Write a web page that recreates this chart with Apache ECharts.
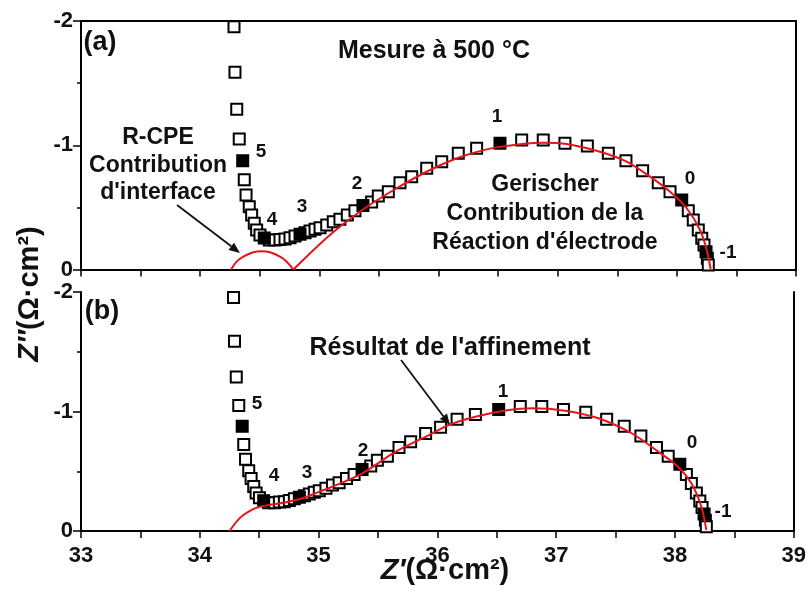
<!DOCTYPE html>
<html><head><meta charset="utf-8">
<script src="https://cdn.jsdelivr.net/npm/echarts@6.0.0/dist/echarts.min.js"></script>
<style>html,body{margin:0;padding:0;background:#fff}#c{width:809px;height:599px}</style>
</head><body><div id="c"></div>
<script>
// Measured impedance (open squares)
const measX = [34.284,34.292,34.307,34.328,34.370,34.385,34.412,34.432,34.454,34.474,34.502,34.580,34.628,34.670,34.712,34.754,34.796,34.880,34.922,34.964,35.006,35.062,35.117,35.173,35.235,35.299,35.439,35.495,35.579,35.677,35.775,35.901,36.027,36.166,36.320,36.698,36.879,37.061,37.249,37.425,37.573,37.713,37.844,37.943,38.096,38.138,38.180,38.209,38.228,38.256,38.264];
const measY = [-1.954,-1.587,-1.289,-1.050,-0.723,-0.600,-0.505,-0.439,-0.372,-0.318,-0.278,-0.237,-0.237,-0.242,-0.245,-0.256,-0.270,-0.296,-0.310,-0.324,-0.336,-0.358,-0.385,-0.404,-0.439,-0.473,-0.543,-0.592,-0.626,-0.699,-0.747,-0.815,-0.868,-0.935,-0.975,-1.042,-1.042,-1.016,-0.994,-0.935,-0.876,-0.795,-0.699,-0.626,-0.473,-0.398,-0.318,-0.251,-0.197,-0.090,-0.036];
// Decade frequency points (filled squares), log10(f/Hz)
const decX = [34.357,34.538,34.838,35.366,36.516,38.041,38.245];
const decY = [-0.876,-0.254,-0.283,-0.515,-1.017,-0.559,-0.143];
const decLabels = ['5','4','3','2','1','0','-1'];
// (a) R-CPE contribution
const rcpeX = [34.259,34.306,34.362,34.446,34.516,34.586,34.670,34.726,34.782];
const rcpeY = [0,-0.063,-0.103,-0.139,-0.147,-0.139,-0.103,-0.063,0];
// (a) Gerischer contribution
const gerX = [34.782,35.089,35.369,35.649,35.929,36.208,36.488,36.879,37.076,37.355,37.579,37.775,37.943,38.083,38.195,38.251,38.284];
const gerY = [0,-0.278,-0.485,-0.654,-0.801,-0.913,-0.983,-1.021,-1.010,-0.948,-0.868,-0.747,-0.626,-0.493,-0.318,-0.157,0];
// (b) fit result
const fitX = [34.250,34.334,34.418,34.502,34.586,34.726,34.865,35.006,35.089,35.369,35.649,35.929,36.096,36.320,36.600,36.795,37.076,37.355,37.635,37.859,38.026,38.138,38.222,38.264];
const fitY = [0,-0.106,-0.167,-0.203,-0.218,-0.241,-0.274,-0.329,-0.360,-0.483,-0.664,-0.803,-0.887,-0.956,-1.013,-1.027,-1.007,-0.943,-0.818,-0.664,-0.538,-0.399,-0.203,-0.008];
const xTickLabels = ['33','34','35','36','37','38','39'];
const yTickLabels = ['-2','-1','0'];

const zip = (a,b) => a.map((v,i)=>[v,b[i]]);
const FF = '"Liberation Sans", Arial, sans-serif';
const TXT = '#111';
const RED = '#e8141b';

function xAx(grid, opts) {
  return Object.assign({
    type:'value', gridIndex:grid, min:33, max:39, interval:0.5,
    axisLine:{show:true, onZero:false, lineStyle:{color:'#000', width:2}},
    axisTick:{show:true, inside:false, length:7, lineStyle:{color:'#000', width:1.5}},
    axisLabel:{show:false},
    splitLine:{show:false}
  }, opts);
}
function yAx(grid, opts) {
  return Object.assign({
    type:'value', gridIndex:grid, min:-2, max:0, interval:1, inverse:true,
    axisLine:{show:true, onZero:false, lineStyle:{color:'#000', width:2}},
    axisTick:{show:true, inside:false, length:8, lineStyle:{color:'#000', width:1.5}},
    minorTick:{show:true, splitNumber:2, length:4, lineStyle:{color:'#000', width:1.5}},
    axisLabel:{show:true, margin:8, color:TXT, fontFamily:FF, fontWeight:'bold', fontSize:22,
      formatter:(v)=>{const i=[-2,-1,0].indexOf(Math.round(v)); return i>=0?yTickLabels[i]:'';}},
    splitLine:{show:false}
  }, opts);
}
const frame = {axisTick:{show:false}, minorTick:{show:false}, axisLabel:{show:false}};

const openStyle = {color:'#fff', borderColor:'#000', borderWidth:2, opacity:1};
const fillStyle = {color:'#000', borderColor:'#000', borderWidth:2, opacity:1};

function txt(x,y,text,size){
  return {type:'text', z:100, style:{text:text, x:x, y:y, fill:TXT,
    font:'bold '+size+'px '+FF, align:'center', verticalAlign:'middle'}};
}
function arrow(x1,y1,x2,y2){
  const a = Math.atan2(y2-y1, x2-x1), L=11, W=4.5;
  const bx = x2 - L*Math.cos(a), by = y2 - L*Math.sin(a);
  return [
    {type:'line', z:100, shape:{x1:x1,y1:y1,x2:bx,y2:by}, style:{stroke:'#111', lineWidth:1.8}},
    {type:'polygon', z:100, shape:{points:[[x2,y2],[bx - W*Math.sin(a), by + W*Math.cos(a)],[bx + W*Math.sin(a), by - W*Math.cos(a)]]}, style:{fill:'#111'}}
  ];
}

const topLab = [[261,152],[272,220],[302,207],[357,184],[497,117],[690,179],[728,253]];
const botLab = [[257,404],[274,476],[307,473],[363,451],[503,392],[692,443],[723,512]];

const graphics = [];
decLabels.forEach((t,i)=>{
  graphics.push(txt(topLab[i][0], topLab[i][1], t, 19));
  graphics.push(txt(botLab[i][0], botLab[i][1], t, 19));
});
graphics.push(txt(100,43,'(a)',27));
graphics.push(txt(102,312,'(b)',27));
graphics.push(txt(434,51,'Mesure à 500 °C',25));
['R-CPE','Contribution',"d'interface"].forEach((t,i)=>graphics.push(txt(158,138+i*27.5,t,23)));
['Gerischer','Contribution de la',"Réaction d'électrode"].forEach((t,i)=>graphics.push(txt(545,185+i*29,t,23)));
graphics.push(txt(450,348,"Résultat de l'affinement",25));
graphics.push(...arrow(177,205,240,253));
graphics.push(...arrow(401,360,450,425));
// axis titles
graphics.push({type:'text', z:100, x:445, y:571, style:{text:'{i|Z′}{n|(Ω·cm²)}', align:'center', verticalAlign:'middle',
  rich:{i:{font:'italic bold 29px '+FF, fill:TXT}, n:{font:'bold 29px '+FF, fill:TXT}}}});
graphics.push({type:'text', z:100, x:30, y:294, rotation:Math.PI/2, style:{text:'{i|Z″}{n|(Ω·cm²)}', align:'center', verticalAlign:'middle',
  rich:{i:{font:'italic bold 29px '+FF, fill:TXT}, n:{font:'bold 29px '+FF, fill:TXT}}}});

const chart = echarts.init(document.getElementById('c'), null, {renderer:'canvas'});
chart.setOption({
  animation:false,
  backgroundColor:'#fff',
  grid:[{left:81, top:21, width:715, height:248.5}, {left:81, top:292, width:715, height:239}],
  xAxis:[
    xAx(0,{}),
    xAx(0, Object.assign({position:'top'}, frame)),
    xAx(1,{axisLabel:{show:true, margin:14, color:TXT, fontFamily:FF, fontWeight:'bold', fontSize:22,
      formatter:(v)=>{const i=Math.round(v)-33; return Math.abs(v-Math.round(v))<1e-6 && i>=0 && i<7 ? xTickLabels[i] : '';}}})
  ],
  yAxis:[
    yAx(0,{position:'left'}),
    yAx(0, Object.assign({position:'right'}, frame)),
    yAx(1,{position:'left'}),
    yAx(1, Object.assign({position:'right'}, frame))
  ],
  series:[
    {type:'scatter', xAxisIndex:0, yAxisIndex:0, data:zip(measX,measY), symbol:'rect', symbolSize:11, itemStyle:openStyle, z:2},
    {type:'scatter', xAxisIndex:0, yAxisIndex:0, data:zip(decX,decY), symbol:'rect', symbolSize:11, itemStyle:fillStyle, z:2},
    {type:'line', xAxisIndex:0, yAxisIndex:0, data:zip(rcpeX,rcpeY), smooth:0.4, showSymbol:false, lineStyle:{color:RED, width:2}, z:3},
    {type:'line', xAxisIndex:0, yAxisIndex:0, data:zip(gerX,gerY), smooth:0.3, showSymbol:false, lineStyle:{color:RED, width:2}, z:3},
    {type:'scatter', xAxisIndex:2, yAxisIndex:2, data:zip(measX,measY), symbol:'rect', symbolSize:11, itemStyle:openStyle, z:2},
    {type:'scatter', xAxisIndex:2, yAxisIndex:2, data:zip(decX,decY), symbol:'rect', symbolSize:11, itemStyle:fillStyle, z:2},
    {type:'line', xAxisIndex:2, yAxisIndex:2, data:zip(fitX,fitY), smooth:0.3, showSymbol:false, lineStyle:{color:RED, width:2}, z:3}
  ],
  graphic:graphics
});
</script>
</body></html>
